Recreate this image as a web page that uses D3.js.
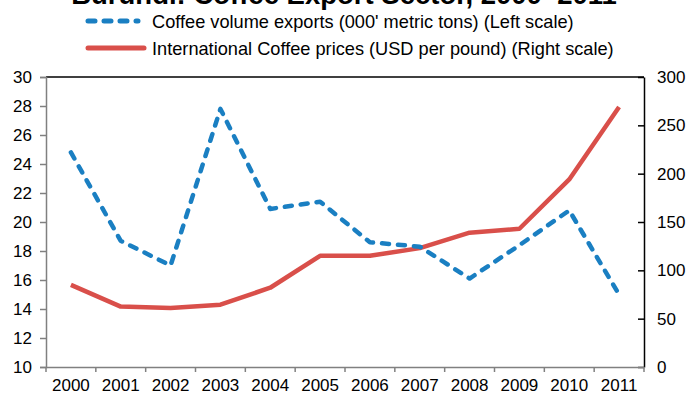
<!DOCTYPE html>
<html>
<head>
<meta charset="utf-8">
<script src="https://cdn.jsdelivr.net/npm/d3@7"></script>
<style>
  html, body { margin: 0; padding: 0; background: #fff; }
  svg { display: block; font-family: "Liberation Sans", Arial, sans-serif; }
</style>
</head>
<body>
<svg id="chart" width="689" height="397"></svg>
<script>
// Burundi coffee sector, 2000–2011
const years = ["2000","2001","2002","2003","2004","2005","2006","2007","2008","2009","2010","2011"];
const volumeExports = [24.8, 18.7, 17.0, 27.8, 20.9, 21.4, 18.6, 18.3, 16.1, 18.4, 20.8, 15.0];   // 000' metric tons
const coffeePrices  = [85, 62.5, 61, 64.5, 82, 115, 115, 123, 139, 143, 194, 269];            // USD per pound
const leftTicks  = [10, 12, 14, 16, 18, 20, 22, 24, 26, 28, 30];
const rightTicks = [0, 50, 100, 150, 200, 250, 300];

const title = "Burundi: Coffee Export Sector, 2000–2011";
const legendLabels = [
  "Coffee volume exports (000' metric tons) (Left scale)",
  "International Coffee prices (USD per pound) (Right scale)"
];

const blue = "#1a7fc2";
const red = "#d94f4a";

const svg = d3.select("#chart");
const plot = { left: 46, right: 644, top: 77, bottom: 367 };

const x = d3.scaleBand().domain(years).range([plot.left, plot.right]).padding(0);
const yL = d3.scaleLinear().domain([10, 30]).range([plot.bottom, plot.top]);
const yR = d3.scaleLinear().domain([0, 300]).range([plot.bottom, plot.top]);
const cx = d => x(d) + x.bandwidth() / 2;

// Title (sits mostly above the top edge)
svg.append("text")
  .attr("x", 344).attr("y", 4)
  .attr("text-anchor", "middle")
  .attr("font-size", 27.5).attr("font-weight", "bold")
  .attr("fill", "#000")
  .text(title);

// Legend
const legend = svg.append("g");
[[blue, "7,9", 86, 140, 21], [red, null, 86, 146, 48]].forEach(([c, dash, x1, x2, y], i) => {
  legend.append("line")
    .attr("x1", x1 + 2).attr("x2", x2 - 2).attr("y1", y).attr("y2", y)
    .attr("stroke", c).attr("stroke-width", 5)
    .attr("stroke-linecap", "round")
    .attr("stroke-dasharray", dash);
  legend.append("text")
    .attr("x", 152).attr("y", y + 6.5)
    .attr("font-size", 18.2).attr("fill", "#000")
    .text(legendLabels[i]);
});

// Top border
svg.append("line")
  .attr("x1", plot.left).attr("x2", plot.right)
  .attr("y1", plot.top).attr("y2", plot.top)
  .attr("stroke", "#000").attr("stroke-width", 1.5);

// Left axis
const gL = svg.append("g").attr("transform", `translate(${plot.left},0)`)
  .call(d3.axisLeft(yL).tickValues(leftTicks).tickSize(6).tickPadding(8).tickFormat(d3.format("d")));
gL.select(".domain").attr("stroke", "#808080").attr("stroke-width", 1.5);
gL.selectAll(".tick line").attr("stroke", "#808080").attr("stroke-width", 1.5);
gL.selectAll(".tick text").attr("font-size", 17).attr("font-family", "Liberation Sans, Arial, sans-serif").attr("fill", "#000");

// Right axis (ticks pointing into the plot)
const gR = svg.append("g").attr("transform", `translate(${plot.right},0)`)
  .call(d3.axisRight(yR).tickValues(rightTicks).tickSize(0).tickPadding(13).tickFormat(d3.format("d")));
gR.select(".domain").attr("stroke", "#000").attr("stroke-width", 1.5);
gR.selectAll(".tick").append("line")
  .attr("x1", -6).attr("x2", 0).attr("stroke", "#000").attr("stroke-width", 1.5);
gR.selectAll(".tick text").attr("font-size", 17).attr("font-family", "Liberation Sans, Arial, sans-serif").attr("fill", "#000");

// Bottom axis: labels centred, tick marks on category boundaries
const gB = svg.append("g").attr("transform", `translate(0,${plot.bottom})`)
  .call(d3.axisBottom(x).tickSize(0).tickPadding(12));
gB.select(".domain").attr("stroke", "#808080").attr("stroke-width", 1.5);
gB.selectAll(".tick text").attr("font-size", 17).attr("font-family", "Liberation Sans, Arial, sans-serif").attr("fill", "#000");
const edges = years.map(d => x(d)).concat([x(years[years.length - 1]) + x.bandwidth()]);
gB.selectAll(".edge").data(edges).enter().append("line")
  .attr("x1", d => d).attr("x2", d => d).attr("y1", 0).attr("y2", 5)
  .attr("stroke", "#808080").attr("stroke-width", 1.5);

// Price line (right scale)
svg.append("path")
  .datum(coffeePrices)
  .attr("fill", "none").attr("stroke", red).attr("stroke-width", 4.5)
  .attr("stroke-linejoin", "round")
  .attr("d", d3.line().x((d, i) => cx(years[i])).y(d => yR(d)));

// Volume line (left scale)
svg.append("path")
  .datum(volumeExports)
  .attr("fill", "none").attr("stroke", blue).attr("stroke-width", 4.5)
  .attr("stroke-linecap", "round").attr("stroke-linejoin", "round")
  .attr("stroke-dasharray", "7,9")
  .attr("d", d3.line().x((d, i) => cx(years[i])).y(d => yL(d)));
</script>
</body>
</html>
